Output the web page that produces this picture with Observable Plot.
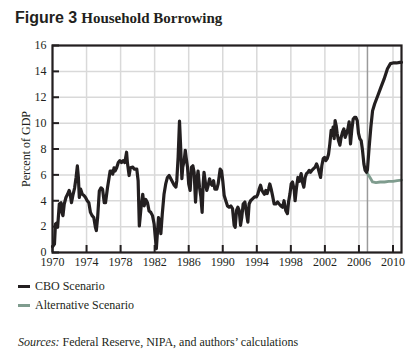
<!DOCTYPE html>
<html>
<head>
<meta charset="utf-8">
<script src="https://cdn.jsdelivr.net/npm/d3@7"></script>
<script src="https://cdn.jsdelivr.net/npm/@observablehq/plot@0.6"></script>
<style>
  html, body { margin: 0; padding: 0; background: #fff; }
  #wrap { position: relative; width: 416px; height: 360px; font-family: "Liberation Serif", "Times New Roman", serif; color: #231f20; overflow: hidden; }
  #title { position: absolute; left: 15px; top: 9px; white-space: nowrap; line-height: 18px; }
  #title .fig { font-family: "Liberation Sans", Arial, sans-serif; font-weight: bold; font-size: 16px; }
  #title .name { font-family: "Liberation Serif", "Times New Roman", serif; font-weight: bold; font-size: 15px; }
  #chart { position: absolute; left: 0; top: 30px; }
  .leg { position: absolute; left: 18px; font-size: 12px; line-height: 14px; white-space: nowrap; }
  .sw { display: inline-block; width: 12px; height: 2.6px; vertical-align: middle; margin-right: 5px; position: relative; top: -1px; }
  #caption { position: absolute; left: 18px; top: 335px; font-size: 12px; line-height: 14px; white-space: nowrap; }
</style>
</head>
<body>
<div id="wrap">
  <div id="title"><span class="fig">Figure 3</span> <span class="name">Household Borrowing</span></div>
  <div id="chart"></div>
  <div class="leg" style="top:279px"><span class="sw" style="background:#231f20"></span>CBO Scenario</div>
  <div class="leg" style="top:298px"><span class="sw" style="background:#7f9c8e"></span>Alternative Scenario</div>
  <div id="caption"><i>Sources:</i> Federal Reserve, NIPA, and authors’ calculations</div>
</div>
<script>
const xTicks = [1970, 1974, 1978, 1982, 1986, 1990, 1994, 1998, 2002, 2006, 2010];
const yTicks = [0, 2, 4, 6, 8, 10, 12, 14, 16];
const projectionStart = 2007;

const cboYears = [
  1970.0, 1970.23, 1970.35, 1970.54, 1970.6, 1970.8, 1971.0, 1971.1, 1971.23, 1971.38,
  1971.58, 1971.77, 1971.96, 1972.08, 1972.23, 1972.42, 1972.6, 1972.77, 1972.92, 1973.04,
  1973.15, 1973.3, 1973.5, 1973.7, 1973.88, 1974.08, 1974.27, 1974.46, 1974.65, 1974.85,
  1975.04, 1975.15, 1975.3, 1975.5, 1975.7, 1975.88, 1976.08, 1976.23, 1976.46, 1976.77,
  1976.96, 1977.08, 1977.23, 1977.35, 1977.54, 1977.73, 1977.92, 1978.1, 1978.3, 1978.5,
  1978.7, 1978.8, 1979.0, 1979.15, 1979.44, 1979.6, 1979.9, 1980.06, 1980.2, 1980.4,
  1980.6, 1980.77, 1980.96, 1981.16, 1981.35, 1981.55, 1981.75, 1981.94, 1982.06, 1982.2,
  1982.45, 1982.6, 1982.73, 1982.9, 1983.1, 1983.3, 1983.5, 1983.7, 1983.9, 1984.1,
  1984.3, 1984.5, 1984.6, 1984.76, 1984.92, 1985.04, 1985.2, 1985.3, 1985.47, 1985.6,
  1985.7, 1985.86, 1986.0, 1986.17, 1986.33, 1986.49, 1986.64, 1986.8, 1986.96, 1987.1,
  1987.27, 1987.43, 1987.58, 1987.7, 1987.8, 1987.98, 1988.13, 1988.29, 1988.45, 1988.6,
  1988.76, 1988.92, 1989.07, 1989.3, 1989.46, 1989.7, 1989.86, 1990.0, 1990.17, 1990.36,
  1990.56, 1990.75, 1990.95, 1991.15, 1991.34, 1991.46, 1991.62, 1991.77, 1991.93, 1992.09,
  1992.24, 1992.4, 1992.6, 1992.8, 1992.95, 1993.1, 1993.27, 1993.5, 1993.74, 1993.97,
  1994.12, 1994.28, 1994.44, 1994.6, 1994.75, 1994.9, 1995.07, 1995.22, 1995.38, 1995.53,
  1995.69, 1995.85, 1996.04, 1996.24, 1996.44, 1996.63, 1996.83, 1997.03, 1997.2, 1997.4,
  1997.6, 1997.73, 1997.9, 1998.04, 1998.2, 1998.4, 1998.5, 1998.67, 1998.83, 1999.0,
  1999.21, 1999.37, 1999.53, 1999.68, 1999.84, 2000.0, 2000.15, 2000.31, 2000.47, 2000.7,
  2000.86, 2001.02, 2001.17, 2001.33, 2001.49, 2001.64, 2001.8, 2001.96, 2002.11, 2002.27,
  2002.43, 2002.58, 2002.74, 2002.86, 2002.97, 2003.09, 2003.2, 2003.33, 2003.44, 2003.6,
  2003.76, 2003.91, 2004.07, 2004.23, 2004.38, 2004.54, 2004.7, 2004.85, 2005.01, 2005.17,
  2005.32, 2005.48, 2005.64, 2005.8, 2005.95, 2006.1, 2006.26, 2006.42, 2006.58, 2006.73,
  2006.9, 2007.0, 2007.2, 2007.4, 2007.6, 2007.85, 2008.2, 2008.6, 2008.95, 2009.35,
  2009.7, 2010.0, 2010.4, 2010.8, 2011.0
];
const cboValues = [
  0.45, 0.65, 2.2, 2.3, 1.95, 3.75, 3.85, 3.1, 2.85, 3.75,
  4.25, 4.5, 4.8, 4.5, 3.85, 4.5, 5.0, 5.8, 6.7, 5.8,
  4.25, 4.9, 4.5, 4.4, 4.25, 4.0, 3.85, 3.1, 2.85, 2.7,
  1.95, 1.7, 2.7, 4.75, 5.0, 4.9, 3.85, 3.85, 5.0, 6.3,
  6.3, 6.05, 6.55, 6.3, 6.55, 6.95, 7.1, 6.95, 7.1, 6.95,
  7.75, 6.95, 5.95, 6.55, 6.6, 6.45, 6.45, 5.55, 2.05, 3.45,
  4.5, 3.6, 4.1, 3.85, 3.2, 3.1, 2.85, 2.2, 1.3, 0.3,
  2.7, 2.45, 1.45, 3.0, 4.5, 5.3, 5.8, 5.95, 5.7, 5.45,
  5.2, 5.05, 5.55, 7.4, 10.15, 8.4, 5.7, 6.6, 7.1, 7.9,
  7.35, 6.6, 5.3, 4.8, 6.6, 6.7, 6.2, 3.9, 5.55, 6.3,
  5.05, 4.3, 3.1, 5.3, 6.2, 5.3, 4.8, 5.2, 5.7, 5.3,
  5.2, 5.55, 4.9, 4.9, 5.3, 6.45, 6.3, 5.55, 4.4, 4.0,
  3.6, 3.5, 3.6, 3.4, 2.1, 1.95, 3.25, 3.5, 3.25, 2.1,
  2.75, 3.75, 3.9, 3.0, 2.35, 3.75, 4.0, 4.15, 4.3, 4.3,
  4.5, 4.9, 5.2, 4.8, 4.65, 4.5, 4.8, 4.55, 4.9, 5.3,
  4.9, 4.4, 3.75, 3.75, 3.9, 3.75, 3.6, 3.5, 4.0, 3.25,
  3.0, 3.9, 4.55, 5.3, 5.45, 4.8, 4.0, 5.05, 5.8, 5.5,
  6.1, 5.4, 5.05, 5.8, 6.1, 6.2, 6.35, 6.2, 6.35, 6.5,
  6.6, 6.85, 6.6, 6.2, 5.8, 6.7, 7.25, 7.35, 7.1, 7.25,
  7.6, 8.4, 9.45, 9.05, 9.7, 8.8, 10.2, 9.8, 9.2, 8.65,
  8.3, 8.9, 9.3, 9.55, 8.9, 9.2, 9.55, 10.1, 8.4, 9.55,
  10.3, 10.45, 10.45, 10.2, 9.2, 8.8, 8.65, 7.9, 6.85, 6.35,
  6.2, 6.4, 8.15, 9.7, 10.95, 11.5, 12.1, 12.8, 13.4, 14.2,
  14.6, 14.65, 14.65, 14.7, 14.7
];

const altYears = [2006.9, 2007.3, 2007.6, 2008.0, 2008.5, 2009.0, 2009.5, 2010.0, 2010.5, 2011.0];
const altValues = [6.2, 5.8, 5.45, 5.4, 5.45, 5.45, 5.5, 5.5, 5.55, 5.6];

const ink = "#231f20";
const altColor = "#7f9c8e";
const gridColor = "#d9d9d9";

const cboData = cboYears.map((year, i) => ({year, value: cboValues[i]}));
const altData = altYears.map((year, i) => ({year, value: altValues[i]}));

const chart = Plot.plot({
  width: 416,
  height: 245,
  marginTop: 15,
  marginBottom: 23,
  marginLeft: 52,
  marginRight: 15,
  style: {fontFamily: "'Liberation Serif', 'Times New Roman', serif", fontSize: "12px", color: ink, background: "white", overflow: "visible"},
  x: {domain: [1970, 2011]},
  y: {domain: [0, 16]},
  marks: [
    Plot.gridX(xTicks, {stroke: gridColor, strokeOpacity: 1, strokeWidth: 1.5}),
    Plot.gridY(yTicks, {stroke: gridColor, strokeOpacity: 1, strokeWidth: 1.5}),
    Plot.ruleX([projectionStart], {stroke: "#9a9a9a", strokeWidth: 1.5}),
    Plot.line(altData, {x: "year", y: "value", stroke: altColor, strokeWidth: 2.8, strokeLinejoin: "round"}),
    Plot.line(cboData, {x: "year", y: "value", stroke: ink, strokeWidth: 3.2, strokeLinejoin: "round", strokeLinecap: "round"}),
    Plot.frame({stroke: ink, strokeWidth: 2.2}),
    Plot.axisX(xTicks, {tickSize: 7, dy: -7, fill: "none", stroke: ink, strokeWidth: 2, label: null}),
    Plot.axisX(xTicks, {tickSize: 0, tickPadding: 5, label: null, tickFormat: d => String(d), fill: ink, fontSize: 12}),
    Plot.axisY(yTicks, {tickSize: 7, dx: 7, fill: "none", stroke: ink, strokeWidth: 2, label: null}),
    Plot.axisY(yTicks, {tickSize: 0, tickPadding: 6, fill: ink, fontSize: 12, label: "Percent of GDP", labelAnchor: "center", labelOffset: 31, labelArrow: "none"})
  ]
});
document.getElementById("chart").appendChild(chart);
</script>
</body>
</html>
